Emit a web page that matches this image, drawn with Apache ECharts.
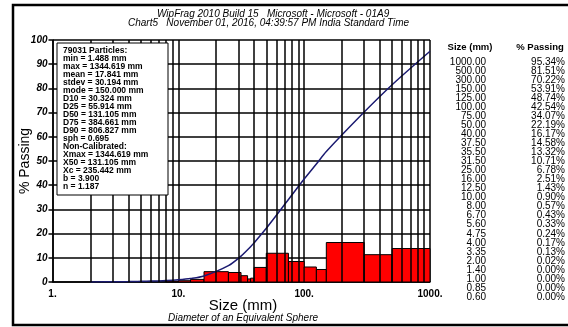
<!DOCTYPE html>
<html>
<head>
<meta charset="utf-8">
<script src="https://cdn.jsdelivr.net/npm/echarts@6/dist/echarts.min.js"></script>
<style>
html,body{margin:0;padding:0;background:#fff;}
#c{width:568px;height:327px;}
</style>
</head>
<body>
<div id="c"></div>
<script>
// ---- data ----
var titleLines = ["WipFrag 2010 Build 15   Microsoft - Microsoft - 01A9",
                  "Chart5   November 01, 2016, 04:39:57 PM India Standard Time"];
var sizes   = [1000, 500, 300, 150, 125, 100, 75, 50, 40, 37.5, 35.5, 31.5, 25, 16, 12.5, 10, 8, 6.7, 5.6, 4.75, 4, 3.35, 2, 1.4, 1, 0.85, 0.6];
var passing = [95.34, 81.51, 70.22, 53.91, 48.74, 42.54, 34.07, 22.19, 16.17, 14.58, 13.32, 10.71, 6.78, 2.51, 1.43, 0.90, 0.57, 0.43, 0.33, 0.24, 0.17, 0.13, 0.02, 0.00, 0.00, 0.00, 0.00];
var sizeLabels = ["1000.00","500.00","300.00","150.00","125.00","100.00","75.00","50.00","40.00","37.50","35.50","31.50","25.00","16.00","12.50","10.00","8.00","6.70","5.60","4.75","4.00","3.35","2.00","1.40","1.00","0.85","0.60"];
var passLabels = ["95.34%","81.51%","70.22%","53.91%","48.74%","42.54%","34.07%","22.19%","16.17%","14.58%","13.32%","10.71%","6.78%","2.51%","1.43%","0.90%","0.57%","0.43%","0.33%","0.24%","0.17%","0.13%","0.02%","0.00%","0.00%","0.00%","0.00%"];
var binLower = [8, 10, 12.5, 16, 25, 31.5, 35.5, 37.5, 40, 50, 75, 100, 125, 150, 300, 500];
var binUpper = [10, 12.5, 16, 25, 31.5, 35.5, 37.5, 40, 50, 75, 100, 125, 150, 300, 500, 1000];
var binPct   = [0.33, 0.53, 1.08, 4.27, 3.93, 2.61, 1.26, 1.59, 6.02, 11.88, 8.47, 6.20, 5.17, 16.31, 11.29, 13.83];
var minorGrid = [2,3,4,5,6,7,8,9,20,30,40,50,60,70,80,90,200,300,400,500,600,700,800,900];
var infoLines = ["79031 Particles:","min = 1.488 mm","max = 1344.619 mm","mean = 17.841 mm","stdev = 30.194 mm",
  "mode = 150.000 mm","D10 = 30.324 mm","D25 = 55.914 mm","D50 = 131.105 mm","D75 = 384.661 mm",
  "D90 = 806.827 mm","sph = 0.695","Non-Calibrated:","Xmax = 1344.619 mm","X50 = 131.105 mm",
  "Xc = 235.442 mm","b = 3.900","n = 1.187"];
var xTickLabels = {1:"1.",10:"10.",100:"100.",1000:"1000."};

// ---- build ----
var FONT = "Liberation Sans, Arial, sans-serif";
var chart = echarts.init(document.getElementById('c'), null, {renderer:'canvas'});

var lineData = [];
for (var i = sizes.length - 1; i >= 0; i--) {
  if (sizes[i] >= 2) lineData.push([sizes[i], passing[i]]);
}
var barData = binLower.map(function(l, i){ return [l, binUpper[i], binPct[i]]; });

var graphics = [];
graphics.push({type:'rect', shape:{x:13,y:5,width:600,height:320},
  style:{fill:null, stroke:'#000', lineWidth:2.5}, silent:true, z:100});
graphics.push({type:'text', x:157, y:9, style:{text:titleLines[0], font:'italic 10px '+FONT, fill:'#000'}});
graphics.push({type:'text', x:128, y:18, style:{text:titleLines[1], font:'italic 10px '+FONT, fill:'#000'}});
// y axis name
graphics.push({type:'text', x:18, y:161, rotation:Math.PI/2, style:{text:'% Passing', font:'14px '+FONT, fill:'#000', align:'center', verticalAlign:'top'}});
// x axis names
graphics.push({type:'text', x:243, y:298, style:{text:'Size (mm)', font:'15px '+FONT, fill:'#000', align:'center'}});
graphics.push({type:'text', x:243, y:313, style:{text:'Diameter of an Equivalent Sphere', font:'italic 10px '+FONT, fill:'#000', align:'center'}});
// info box
graphics.push({type:'rect', shape:{x:57,y:43,width:111,height:152}, style:{fill:'#fff', stroke:'#000', lineWidth:1}, z:50});
graphics.push({type:'text', x:63, y:47, z:51, style:{text:infoLines.join('\n'), font:'bold 8.5px '+FONT, lineHeight:8.0, fill:'#000'}});
// right table
graphics.push({type:'text', x:470, y:42, style:{text:'Size (mm)', font:'bold 9.5px '+FONT, fill:'#000', align:'center'}});
graphics.push({type:'text', x:540, y:42, style:{text:'% Passing', font:'bold 9.5px '+FONT, fill:'#000', align:'center'}});
graphics.push({type:'text', x:486, y:57.5, style:{text:sizeLabels.join('\n'), font:'10px '+FONT, lineHeight:9.04, fill:'#000', align:'right'}});
graphics.push({type:'text', x:565, y:57.5, style:{text:passLabels.join('\n'), font:'10px '+FONT, lineHeight:9.04, fill:'#000', align:'right'}});

var option = {
  animation:false,
  backgroundColor:'#fff',
  grid:{left:52.5, right:138, top:40, bottom:45, containLabel:false},
  xAxis:{type:'log', logBase:10, min:1, max:1000,
    axisLine:{show:true, lineStyle:{color:'#000', width:1.5}},
    axisTick:{show:false},
    axisLabel:{color:'#000', fontFamily:FONT, fontWeight:'bold', fontSize:10, margin:7,
      formatter:function(v){ return xTickLabels[Math.round(v)] || ''; }},
    splitLine:{show:true, lineStyle:{color:'#000', width:1.5}}
  },
  yAxis:{type:'value', min:0, max:100, interval:10,
    axisLine:{show:true, lineStyle:{color:'#000', width:1.5}},
    axisTick:{show:true, length:4, lineStyle:{color:'#000', width:1.5}},
    axisLabel:{color:'#000', fontFamily:FONT, fontWeight:'bold', fontStyle:'italic', fontSize:10, margin:5},
    splitLine:{show:true, lineStyle:{color:'#000', width:1.5}}
  },
  graphic:graphics,
  series:[
    {type:'line', data:[], silent:true, z:1,
      markLine:{silent:true, symbol:['none','none'], label:{show:false},
        lineStyle:{color:'#000', width:1.5, type:'solid'},
        data: minorGrid.map(function(v){ return {xAxis:v}; })}},
    {type:'custom', z:3, data:barData,
      renderItem:function(params, api){
        var p1 = api.coord([api.value(0), api.value(2)]);
        var p2 = api.coord([api.value(1), 0]);
        return {type:'rect', shape:{x:p1[0], y:p1[1], width:p2[0]-p1[0], height:p2[1]-p1[1]},
          style:{fill:'#ff0000', stroke:'#000', lineWidth:1}};
      },
      encode:{x:[0,1], y:2}
    },
    {type:'line', z:4, data:lineData, smooth:0.3, showSymbol:false,
      lineStyle:{color:'#1a1a70', width:1.5}}
  ]
};
chart.setOption(option);
</script>
</body>
</html>
